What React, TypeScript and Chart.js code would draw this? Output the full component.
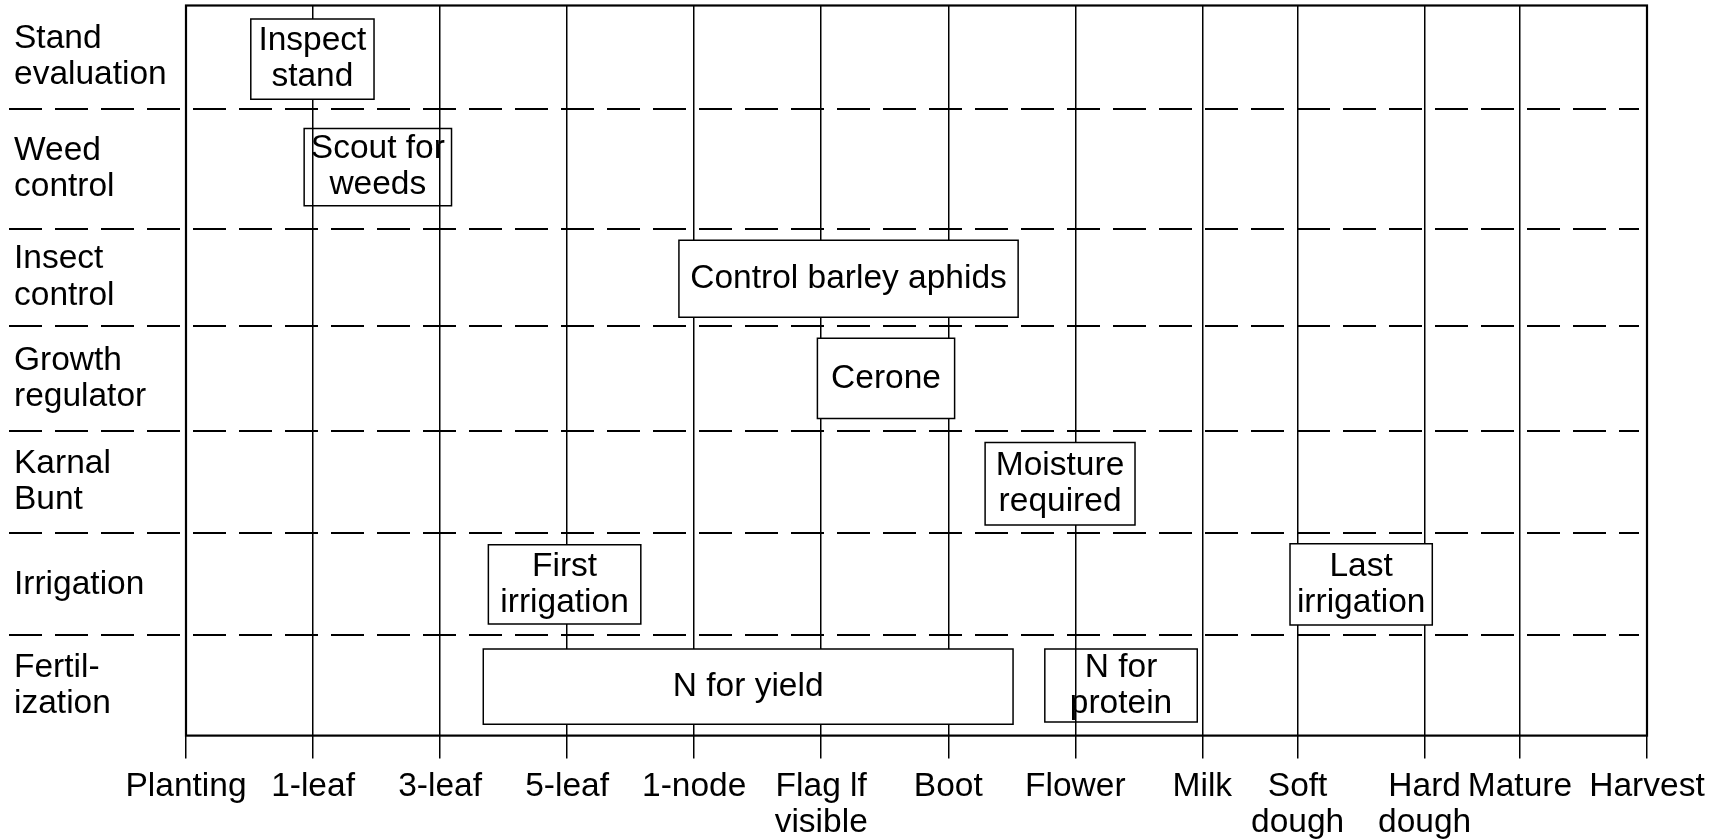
import React, { useEffect, useRef } from 'react';
import { Chart, registerables } from 'chart.js';

Chart.register(...registerables);

const FONT = "'Liberation Sans', Arial, Helvetica, sans-serif";
const FONT_SIZE = 33.5;

// Growth stages along the x axis (position in stage units)
const stageLabels: (string | string[])[] = [
  'Planting', '1-leaf', '3-leaf', '5-leaf', '1-node', ['Flag lf', 'visible'], 'Boot',
  'Flower', 'Milk', ['Soft', 'dough'], ['Hard', 'dough'], 'Mature', 'Harvest',
];
const stagePositions = [0, 1, 2, 3, 4, 5, 6, 7, 8, 8.75, 9.75, 10.5, 11.5];

// Management rows (top to bottom) and their boundaries in row units
const rowLabels: (string | string[])[] = [
  ['Stand', 'evaluation'], ['Weed', 'control'], ['Insect', 'control'],
  ['Growth', 'regulator'], ['Karnal', 'Bunt'], 'Irrigation', ['Fertil-', 'ization'],
];
const rowBounds = [0, 0.99, 2.14, 3.07, 4.08, 5.06, 6.04, 7];

// Tasks: text, start / end stage, top / bottom in row units
const taskLabels: string[][] = [
  ['Inspect', 'stand'], ['Scout for', 'weeds'], ['Control barley aphids'], ['Cerone'],
  ['Moisture', 'required'], ['First', 'irrigation'], ['Last', 'irrigation'],
  ['N for yield'], ['N for', 'protein'],
];
const taskStart = [0.51, 0.93, 3.88, 4.97, 6.29, 2.38, 8.69, 2.34, 6.76];
const taskEnd = [1.48, 2.09, 6.55, 6.05, 7.47, 3.58, 9.81, 6.51, 7.96];
const taskTop = [0.13, 1.18, 2.25, 3.19, 4.19, 5.17, 5.16, 6.17, 6.17];
const taskBottom = [0.9, 1.92, 2.99, 3.96, 4.98, 5.93, 5.94, 6.89, 6.87];

const rowCenters = rowBounds.slice(0, -1).map((b, i) => (b + rowBounds[i + 1]) / 2);
const seeThrough = [1, 8];

const timelinePlugin = {
  id: 'timelineDecor',
  beforeDatasetsDraw(chart: any) {
    const { ctx, chartArea, scales } = chart;
    const y = scales.y;
    ctx.save();
    ctx.strokeStyle = '#000';
    ctx.lineWidth = 2;
    ctx.setLineDash([33, 13]);
    rowBounds.slice(1, -1).forEach((b) => {
      const py = Math.round(y.getPixelForValue(b));
      ctx.beginPath();
      ctx.moveTo(9, py);
      ctx.lineTo(chartArea.right - 8, py);
      ctx.stroke();
    });
    ctx.setLineDash([]);
    ctx.lineWidth = 2.2;
    ctx.strokeRect(chartArea.left, chartArea.top, chartArea.right - chartArea.left, chartArea.bottom - chartArea.top);
    ctx.restore();
  },
  afterDatasetsDraw(chart: any) {
    const { ctx, scales } = chart;
    const { x, y } = scales;
    ctx.save();
    ctx.fillStyle = '#000';
    ctx.font = `${FONT_SIZE}px ${FONT}`;
    ctx.textAlign = 'center';
    ctx.textBaseline = 'middle';
    const lh = 36;
    taskLabels.forEach((lines, i) => {
      const cx = (x.getPixelForValue(taskStart[i]) + x.getPixelForValue(taskEnd[i])) / 2;
      const cy = (y.getPixelForValue(taskTop[i]) + y.getPixelForValue(taskBottom[i])) / 2;
      const y0 = cy - ((lines.length - 1) * lh) / 2;
      lines.forEach((t, k) => ctx.fillText(t, cx, y0 + k * lh));
    });
    ctx.restore();
  },
};

export default function App() {
  const ref = useRef<HTMLCanvasElement>(null);
  useEffect(() => {
    document.body.style.margin = '0';
    document.body.style.overflow = 'hidden';
    const chart = new Chart(ref.current as HTMLCanvasElement, {
      type: 'scatter',
      data: {
        datasets: taskLabels.map((lab, i) => ({
          label: lab.join(' '),
          data: [
            { x: taskStart[i], y: taskTop[i] },
            { x: taskEnd[i], y: taskTop[i] },
            { x: taskEnd[i], y: taskBottom[i] },
            { x: taskStart[i], y: taskBottom[i] },
            { x: taskStart[i], y: taskTop[i] },
          ],
          showLine: true,
          fill: 'shape',
          backgroundColor: seeThrough.includes(i) ? 'rgba(255,255,255,0)' : '#ffffff',
          borderColor: '#000',
          borderWidth: 1.5,
          borderJoinStyle: 'miter',
          borderCapStyle: 'square',
          pointRadius: 0,
          pointHoverRadius: 0,
          tension: 0,
        })) as any,
      },
      options: {
        responsive: false,
        animation: false,
        devicePixelRatio: 1,
        layout: { padding: { left: 14, top: 5.5, right: 77, bottom: 0 } },
        plugins: { legend: { display: false }, tooltip: { enabled: false } },
        events: [],
        scales: {
          x: {
            type: 'linear',
            min: 0,
            max: 11.5,
            afterBuildTicks: (s: any) => {
              s.ticks = stagePositions.map((v) => ({ value: v }));
            },
            afterFit: (s: any) => {
              s.height = 104.4;
              s.paddingLeft = 0;
              s.paddingRight = 0;
              s.paddingTop = 0;
              s.paddingBottom = 0;
            },
            ticks: {
              autoSkip: false,
              maxRotation: 0,
              minRotation: 0,
              padding: 10,
              color: '#000',
              font: { family: FONT, size: FONT_SIZE, lineHeight: 1.08 },
              callback: (_v: any, i: number) => stageLabels[i] as any,
            },
            grid: {
              color: '#000',
              lineWidth: 1.5,
              drawTicks: true,
              tickLength: 23,
              tickColor: '#000',
              tickWidth: 1.5,
            },
            border: { display: false },
          },
          y: {
            type: 'linear',
            min: 0,
            max: 7,
            reverse: true,
            afterBuildTicks: (s: any) => {
              s.ticks = rowCenters.map((v) => ({ value: v }));
            },
            afterFit: (s: any) => {
              s.width = 172;
              s.paddingLeft = 0;
              s.paddingRight = 0;
              s.paddingTop = 0;
              s.paddingBottom = 0;
            },
            ticks: {
              autoSkip: false,
              crossAlign: 'far',
              padding: 0,
              color: '#000',
              font: { family: FONT, size: FONT_SIZE, lineHeight: 1.08 },
              callback: (_v: any, i: number) => rowLabels[i] as any,
            },
            grid: { display: false, drawTicks: false },
            border: { display: false },
          },
        },
      } as any,
      plugins: [timelinePlugin],
    });
    return () => chart.destroy();
  }, []);
  return (
    <div style={{ width: 1724, height: 840, background: '#fff' }}>
      <canvas ref={ref} width={1724} height={840} style={{ display: 'block' }} />
    </div>
  );
}
